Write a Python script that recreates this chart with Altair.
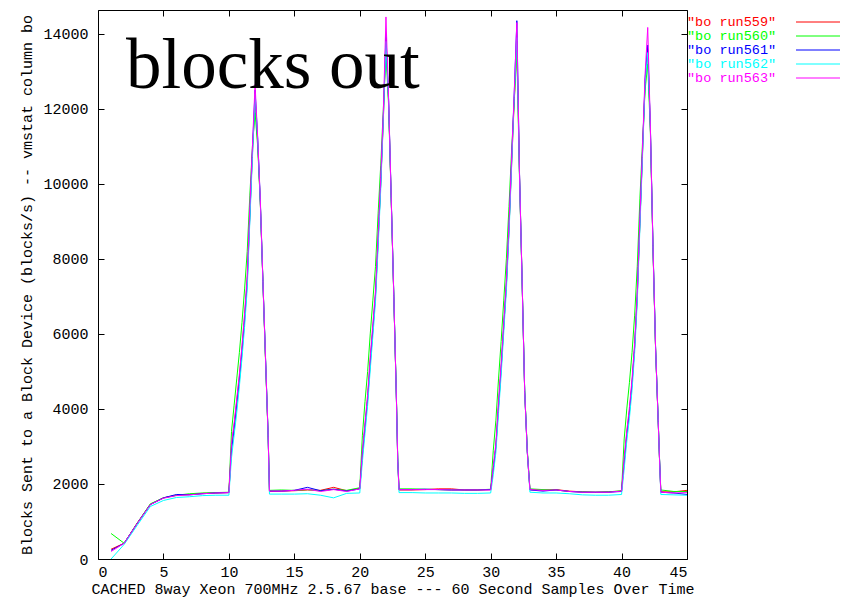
import altair as alt
import pandas as pd

# ---- data ----
SAMPLES = [
    1, 2, 3, 4, 5, 6, 7, 8, 9, 10,
    10.2, 10.4, 10.6, 10.8, 11.0, 11.2, 11.4, 11.6, 11.8, 12.0, 12.2, 12.4, 12.6, 12.8, 13.0, 13.1,
    14, 15, 16, 17, 18, 19, 20,
    20.2, 20.4, 20.6, 20.8, 21.0, 21.2, 21.4, 21.6, 21.8, 22.0, 22.2, 22.4, 22.6, 22.8, 22.9, 23.0,
    24, 25, 26, 27, 28, 29, 30,
    30.2, 30.4, 30.6, 30.8, 31.0, 31.2, 31.4, 31.6, 31.8, 32.0, 32.2, 32.4, 32.6, 32.8, 32.9, 33.0,
    34, 35, 36, 37, 38, 39, 40,
    40.2, 40.4, 40.6, 40.8, 41.0, 41.2, 41.4, 41.6, 41.8, 42.0, 42.2, 42.4, 42.6, 42.8, 42.9, 43.0,
    44, 45,
]

RUN559 = [
    260, 420, 960, 1460, 1630, 1700, 1720, 1750, 1760, 1770,
    3000, 3550, 4200, 4850, 5600, 6450, 7450, 9200, 10800, 12300, 11100, 9500, 7400, 5300, 3250, 1800,
    1810, 1820, 1840, 1830, 1910, 1820, 1880,
    2800, 3550, 4300, 5300, 6150, 7050, 8500, 10000, 11700, 13900, 12200, 9600, 7000, 4250, 2600, 1840,
    1840, 1850, 1870, 1870, 1840, 1840, 1850,
    2400, 3000, 4100, 5100, 6200, 7300, 8800, 10500, 12200, 13800, 10300, 7450, 4450, 2850, 2330, 1850,
    1840, 1850, 1810, 1790, 1780, 1790, 1810,
    2600, 3350, 3950, 4700, 5650, 7000, 8950, 10800, 12700, 13600, 11500, 8300, 5600, 3650, 2650, 1790,
    1790, 1830,
]

RUN560 = [
    680, 420, 960, 1470, 1630, 1700, 1740, 1760, 1770, 1780,
    3400, 4100, 4800, 5500, 6300, 7200, 8200, 9700, 11000, 11900, 11000, 9500, 7400, 5300, 3300, 1830,
    1840, 1830, 1850, 1820, 1860, 1830, 1900,
    3300, 4200, 5000, 6000, 6900, 7800, 9200, 10500, 12000, 13500, 12100, 9600, 7000, 4300, 2700, 1870,
    1870, 1860, 1850, 1840, 1840, 1840, 1860,
    2900, 3700, 4800, 5800, 6900, 8000, 9400, 10900, 12200, 13500, 10200, 7400, 4500, 2900, 2400, 1870,
    1850, 1840, 1800, 1790, 1780, 1790, 1820,
    3200, 4000, 4700, 5500, 6500, 7800, 9600, 11100, 12500, 13200, 11400, 8300, 5600, 3700, 2700, 1840,
    1800, 1800,
]

RUN561 = [
    230, 420, 950, 1450, 1630, 1720, 1710, 1740, 1760, 1770,
    2900, 3450, 4100, 4750, 5500, 6350, 7350, 9100, 10900, 12500, 11200, 9550, 7400, 5350, 3280, 1810,
    1810, 1830, 1910, 1820, 1860, 1810, 1870,
    2750, 3500, 4250, 5200, 6100, 7000, 8450, 10000, 11800, 14000, 12250, 9650, 7020, 4250, 2620, 1850,
    1850, 1860, 1850, 1840, 1840, 1840, 1850,
    2400, 3000, 4050, 5050, 6200, 7300, 8800, 10600, 12400, 14350, 10350, 7450, 4460, 2840, 2340, 1840,
    1810, 1840, 1800, 1780, 1780, 1780, 1800,
    2550, 3300, 3900, 4650, 5650, 7000, 8950, 10850, 12800, 13700, 11550, 8350, 5620, 3660, 2680, 1780,
    1760, 1720,
]

RUN562 = [
    0, 390, 900, 1400, 1560, 1640, 1660, 1690, 1700, 1700,
    2700, 3300, 3900, 4600, 5350, 6200, 7200, 9000, 10700, 12400, 11200, 9550, 7420, 5350, 3270, 1730,
    1730, 1730, 1740, 1700, 1630, 1750, 1760,
    2600, 3350, 4100, 5050, 5950, 6850, 8300, 9850, 11700, 13800, 12250, 9650, 7030, 4250, 2620, 1770,
    1770, 1760, 1760, 1760, 1750, 1750, 1760,
    2250, 2850, 3900, 4900, 6050, 7150, 8650, 10450, 12300, 13900, 10300, 7450, 4460, 2840, 2330, 1780,
    1760, 1760, 1740, 1710, 1700, 1700, 1720,
    2400, 3150, 3750, 4500, 5500, 6850, 8800, 10700, 12700, 13500, 11550, 8350, 5630, 3660, 2670, 1720,
    1710, 1700,
]

RUN563 = [
    200, 420, 950, 1450, 1620, 1690, 1710, 1740, 1760, 1770,
    3080, 3620, 4270, 4930, 5690, 6560, 7540, 9390, 11020, 12650, 11240, 9600, 7430, 5360, 3290, 1810,
    1810, 1830, 1860, 1800, 1850, 1800, 1870,
    2880, 3630, 4390, 5390, 6270, 7150, 8660, 10170, 11930, 14450, 12310, 9670, 7030, 4260, 2630, 1850,
    1850, 1850, 1850, 1840, 1840, 1840, 1840,
    2460, 3090, 4210, 5200, 6330, 7450, 8940, 10690, 12430, 14300, 10310, 7450, 4460, 2840, 2340, 1850,
    1830, 1840, 1800, 1780, 1780, 1780, 1810,
    2680, 3420, 4040, 4780, 5770, 7120, 9100, 10960, 12930, 14170, 11570, 8360, 5640, 3660, 2680, 1780,
    1760, 1770,
]

SERIES = ["run559", "run560", "run561", "run562", "run563"]
COLORS = ["#ff0000", "#00ff00", "#0000ff", "#00ffff", "#ff00ff"]
X_TICKS = [0, 5, 10, 15, 20, 25, 30, 35, 40, 45]
Y_TICKS = [0, 2000, 4000, 6000, 8000, 10000, 12000, 14000]
X_DOMAIN = [0, 45]
Y_DOMAIN = [0, 14635]

TITLE_TEXT = "blocks out"
X_TITLE = "CACHED 8way Xeon 700MHz 2.5.67 base --- 60 Second Samples Over Time"
Y_TITLE = "Blocks Sent to a Block Device (blocks/s) -- vmstat column bo"

# ---- table ----
rows = []
for name, vals in zip(SERIES, [RUN559, RUN560, RUN561, RUN562, RUN563]):
    assert len(vals) == len(SAMPLES)
    for x, y in zip(SAMPLES, vals):
        rows.append({"series": name, "x": x, "y": y})
df = pd.DataFrame(rows)

leg_df = pd.DataFrame({"series": SERIES, "label": ['"bo %s"' % s for s in SERIES]})

W, H = 589, 549
FONT = "Liberation Mono"
TICK = 6

color = alt.Color("series:N", scale=alt.Scale(domain=SERIES, range=COLORS), legend=None)
xs = alt.Scale(domain=X_DOMAIN, nice=False, zero=False)
ys = alt.Scale(domain=Y_DOMAIN, nice=False)

lines = alt.Chart(df).mark_line(strokeWidth=1, clip=True).encode(
    x=alt.X("x:Q", scale=xs, axis=alt.Axis(
        orient="bottom", values=X_TICKS, format="d", offset=-TICK, tickSize=TICK, domain=False,
        labelPadding=5, title=X_TITLE, titleX=W / 2, titleY=40.5,
        titleBaseline="alphabetic", titleAlign="center")),
    y=alt.Y("y:Q", scale=ys, axis=alt.Axis(
        orient="left", values=Y_TICKS, format="d", offset=-TICK, tickSize=TICK, domain=False,
        labelPadding=10, title=Y_TITLE, titleX=-73, titleY=H / 2, titleAngle=270,
        titleBaseline="alphabetic", titleAlign="center")),
    color=color,
)

mirror = alt.Chart(df).mark_point(opacity=0).encode(
    x=alt.X("x:Q", scale=xs, title="", axis=alt.Axis(
        orient="top", values=X_TICKS, offset=-TICK, tickSize=TICK, domain=False, labels=False)),
    y=alt.Y("y:Q", scale=ys, title="", axis=alt.Axis(
        orient="right", values=Y_TICKS, offset=-TICK, tickSize=TICK, domain=False, labels=False)),
)

leg_y = alt.Y("series:N", scale=alt.Scale(type="point", domain=SERIES, range=[12, 68], padding=0), axis=None)

leg_text = alt.Chart(leg_df).mark_text(
    align="left", baseline="middle", font=FONT, fontSize=13.5
).encode(x=alt.value(W), y=leg_y, text="label:N", color=color)

leg_line = alt.Chart(leg_df).mark_rule(strokeWidth=1).encode(
    x=alt.value(W + 109), x2=alt.value(W + 153), y=leg_y, color=color)

title = alt.Chart(pd.DataFrame({"t": [TITLE_TEXT]})).mark_text(
    align="left", baseline="alphabetic", font="Liberation Serif", fontSize=71, color="black"
).encode(x=alt.value(28), y=alt.value(78), text="t:N")

chart = (
    alt.layer(lines, mirror, leg_line, leg_text, title)
    .resolve_scale(y="independent")
    .resolve_axis(x="independent", y="independent")
    .properties(
        width=W, height=H,
        autosize=alt.AutoSizeParams(type="none"),
        padding={"left": 90, "top": 2, "right": 154, "bottom": 39},
        background="white",
    )
    .configure_view(stroke="black", strokeWidth=1)
    .configure_axis(
        grid=False, labelFont=FONT, labelFontSize=15, labelColor="black",
        tickColor="black", tickWidth=1,
        titleFont=FONT, titleFontSize=15, titleFontWeight="normal", titleColor="black",
    )
)

chart.save("out.html", embed_options={"renderer": "svg", "actions": False})
